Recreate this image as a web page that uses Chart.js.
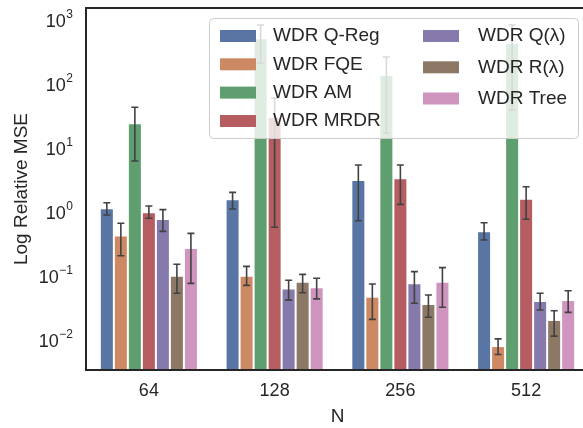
<!DOCTYPE html>
<html>
<head>
<meta charset="utf-8">
<script src="https://cdn.jsdelivr.net/npm/chart.js@4/dist/chart.umd.min.js"></script>
<style>
  html, body { margin: 0; padding: 0; background: #fff; overflow: hidden; }
  #wrap { width: 592px; height: 428px; }
</style>
</head>
<body>
<div id="wrap"><canvas id="myChart" width="592" height="428"></canvas></div>
<script>
// data
var categories = ['64', '128', '256', '512'];
var seriesNames = ['WDR Q-Reg', 'WDR FQE', 'WDR AM', 'WDR MRDR', 'WDR Q(\u03bb)', 'WDR R(\u03bb)', 'WDR Tree'];

var qReg  = [1.25, 1.73, 3.46, 0.55];
var fqe   = [0.47, 0.11, 0.052, 0.0088];
var am    = [26.6, 570, 151, 478];
var mrdr  = [1.08, 33.7, 3.68, 1.77];
var qLam  = [0.85, 0.070, 0.084, 0.0445];
var rLam  = [0.11, 0.089, 0.040, 0.0225];
var tree  = [0.30, 0.073, 0.089, 0.046];

var qRegLo = [0.98, 1.22, 0.80, 0.40],     qRegHi = [1.53, 2.22, 5.93, 0.745];
var fqeLo  = [0.227, 0.078, 0.023, 0.0065], fqeHi  = [0.73, 0.155, 0.082, 0.0114];
var amLo   = [6.85, 233, 18.8, 42.9],      amHi   = [47.3, 914, 289, 914];
var mrdrLo = [0.873, 0.631, 1.44, 0.841],  mrdrHi = [1.36, 66, 5.93, 2.72];
var qLamLo = [0.546, 0.046, 0.041, 0.0322], qLamHi = [1.19, 0.094, 0.128, 0.0587];
var rLamLo = [0.0587, 0.060, 0.0248, 0.0126], rLamHi = [0.167, 0.116, 0.0552, 0.0314];
var treeLo = [0.084, 0.048, 0.0355, 0.0296], treeHi = [0.508, 0.101, 0.148, 0.0645];

var yTickValues = [1e-2, 1e-1, 1e0, 1e1, 1e2, 1e3];
var yTickExp = ['\u22122', '\u22121', '0', '1', '2', '3'];

var values = [qReg, fqe, am, mrdr, qLam, rLam, tree];
var lows = [qRegLo, fqeLo, amLo, mrdrLo, qLamLo, rLamLo, treeLo];
var highs = [qRegHi, fqeHi, amHi, mrdrHi, qLamHi, rLamHi, treeHi];
var colors = ['#5975a4', '#cc8963', '#5f9e6e', '#b55d60', '#857aab', '#8d7866', '#d095bf'];

var FONT = "'Liberation Sans', Arial, sans-serif";
var TXT = '#262626';

var datasets = seriesNames.map(function(name, i){
  return {
    label: name,
    data: values[i],
    errLo: lows[i],
    errHi: highs[i],
    backgroundColor: colors[i],
    borderColor: 'rgba(255,255,255,0.6)',
    borderWidth: 1,
    categoryPercentage: 0.78,
    barPercentage: 1.0
  };
});

var extras = {
  id: 'extras',
  afterDatasetsDraw: function(chart){
    var ctx = chart.ctx, ys = chart.scales.y, a = chart.chartArea;
    ctx.save();
    // error bars
    ctx.strokeStyle = '#424242';
    ctx.lineWidth = 1.6;
    chart.data.datasets.forEach(function(ds, i){
      chart.getDatasetMeta(i).data.forEach(function(bar, j){
        var x = bar.x;
        var y1 = ys.getPixelForValue(ds.errLo[j]);
        var y2 = ys.getPixelForValue(ds.errHi[j]);
        ctx.beginPath();
        ctx.moveTo(x, y1); ctx.lineTo(x, y2);
        ctx.moveTo(x - 3.5, y1); ctx.lineTo(x + 3.5, y1);
        ctx.moveTo(x - 3.5, y2); ctx.lineTo(x + 3.5, y2);
        ctx.stroke();
      });
    });
    // frame
    ctx.strokeStyle = TXT;
    ctx.lineWidth = 2;
    ctx.strokeRect(a.left, a.top, a.right - a.left, a.bottom - a.top);

    // y tick labels 10^k
    ctx.fillStyle = TXT;
    ctx.textBaseline = 'middle';
    ctx.textAlign = 'right';
    yTickValues.forEach(function(v, k){
      var yy = ys.getPixelForValue(v);
      ctx.font = '12px ' + FONT;
      var ew = ctx.measureText(yTickExp[k]).width;
      ctx.fillText(yTickExp[k], 73, yy - 7.5);
      ctx.font = '18px ' + FONT;
      ctx.fillText('10', 73 - ew - 0.5, yy);
    });

    // legend
    ctx.beginPath();
    ctx.roundRect(209.5, 18.5, 369, 120, 4);
    ctx.fillStyle = 'rgba(255,255,255,0.8)';
    ctx.fill();
    ctx.strokeStyle = '#cccccc';
    ctx.lineWidth = 1;
    ctx.stroke();
    var col1 = [36, 64.3, 92.6, 121];
    var col2 = [36, 67.3, 98.5];
    ctx.font = '19px ' + FONT;
    ctx.textAlign = 'left';
    chart.data.datasets.forEach(function(ds, i){
      var hx, tx, cy;
      if (i < 4) { hx = 220; tx = 273; cy = col1[i]; }
      else { hx = 423; tx = 478; cy = col2[i - 4]; }
      ctx.fillStyle = ds.backgroundColor;
      ctx.fillRect(hx, cy - 6, 36, 12);
      ctx.fillStyle = TXT;
      ctx.fillText(ds.label, tx, cy);
    });
    ctx.restore();
  }
};

var ctx = document.getElementById('myChart').getContext('2d');
var myChart = new Chart(ctx, {
  type: 'bar',
  data: { labels: categories, datasets: datasets },
  options: {
    responsive: false,
    animation: false,
    layout: { padding: { left: 0, top: 8, right: 3, bottom: 0 } },
    plugins: { legend: { display: false }, tooltip: { enabled: false } },
    scales: {
      x: {
        grid: { display: false, drawTicks: false },
        border: { display: false },
        ticks: { font: { size: 18, family: FONT }, color: TXT, padding: 10 },
        title: { display: true, text: 'N', font: { size: 19, family: FONT }, color: TXT, padding: { top: 0, bottom: 0 } },
        afterFit: function(s){ s.height = 58; }
      },
      y: {
        type: 'logarithmic',
        min: 0.00372,
        max: 1685,
        bounds: 'data',
        grid: { display: false, drawTicks: false },
        border: { display: false },
        ticks: { display: false },
        title: { display: true, text: 'Log Relative MSE', font: { size: 19, family: FONT }, color: TXT, padding: { top: 10.6, bottom: 0 } },
        afterFit: function(s){ s.width = 86; }
      }
    }
  },
  plugins: [extras]
});
</script>
</body>
</html>
